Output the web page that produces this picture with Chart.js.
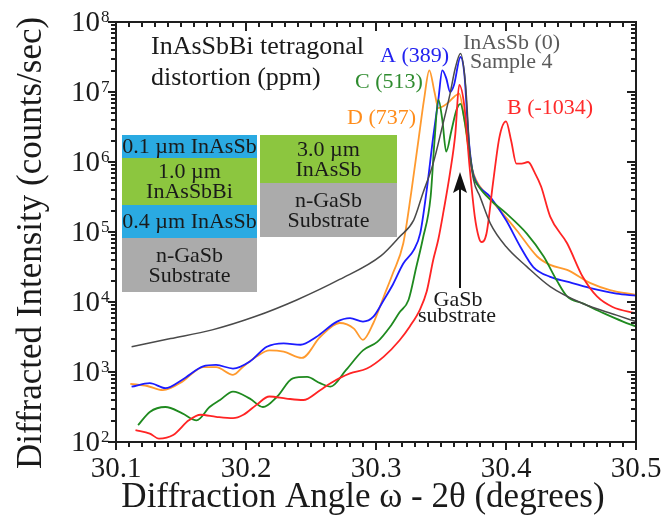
<!DOCTYPE html>
<html>
<head>
<meta charset="utf-8">
<script src="https://cdn.jsdelivr.net/npm/chart.js@4/dist/chart.umd.min.js"></script>
<style>
  html, body { margin: 0; padding: 0; background: #ffffff; }
  canvas { display: block; }
</style>
</head>
<body>
<canvas id="xrd" width="663" height="525"></canvas>
<script>
// ---- axis ticks ----
const xTickLabels = ['30.1', '30.2', '30.3', '30.4', '30.5'];
const yTickExponents = [2, 3, 4, 5, 6, 7, 8];

// ---- omega-2theta scans (diffraction angle in degrees, intensity in counts/sec) ----
// InAsSb (0), Sample 4
const grayX = [30.112, 30.142, 30.174, 30.207, 30.239, 30.272, 30.304, 30.318, 30.329, 30.336, 30.344, 30.351, 30.357, 30.361, 30.365, 30.369, 30.372, 30.375, 30.380, 30.388, 30.400, 30.416, 30.434, 30.459, 30.485, 30.500];
const grayY = [2300, 3000, 4000, 6200, 10700, 21000, 46000, 85000, 148000, 355000, 955000, 3.2e6, 9.5e6, 2.2e7, 3.55e7, 1.2e7, 1.5e6, 5.6e5, 3.2e5, 1.32e5, 6.2e4, 3.2e4, 1.66e4, 9500, 6500, 5250];

// A (389)
const blueX = [30.112, 30.126, 30.138, 30.151, 30.167, 30.177, 30.190, 30.203, 30.216, 30.229, 30.242, 30.254, 30.270, 30.280, 30.290, 30.298, 30.306, 30.313, 30.321, 30.329, 30.334, 30.339, 30.344, 30.348, 30.351, 30.354, 30.357, 30.360, 30.365, 30.368, 30.371, 30.374, 30.377, 30.388, 30.400, 30.411, 30.421, 30.434, 30.447, 30.465, 30.485, 30.500];
const blueY = [617, 692, 589, 776, 1200, 1260, 1120, 1410, 2290, 2570, 2450, 3160, 5250, 5890, 5250, 6170, 10700, 17800, 35500, 55000, 95500, 398000, 2.29e6, 7.9e6, 2.04e7, 1.58e7, 1.0e7, 1.26e7, 3.16e7, 1.78e7, 2.5e6, 7.9e5, 5.25e5, 3.16e5, 1.48e5, 6.17e4, 3.16e4, 2.29e4, 1.95e4, 1.58e4, 1.32e4, 1.23e4];

// D (737)
const orangeX = [30.111, 30.124, 30.136, 30.150, 30.160, 30.167, 30.177, 30.190, 30.198, 30.208, 30.218, 30.229, 30.243, 30.257, 30.272, 30.283, 30.290, 30.298, 30.306, 30.313, 30.321, 30.327, 30.333, 30.337, 30.341, 30.345, 30.348, 30.352, 30.356, 30.360, 30.364, 30.368, 30.371, 30.374, 30.377, 30.385, 30.393, 30.408, 30.424, 30.434, 30.447, 30.465, 30.480, 30.500];
const orangeY = [676, 631, 550, 708, 1000, 1175, 1175, 912, 1200, 1660, 2040, 1950, 1590, 3160, 5010, 4170, 2880, 5010, 12000, 25700, 69000, 355000, 2.29e6, 7.9e6, 2.04e7, 1.0e7, 5.9e6, 6.3e6, 7.2e6, 8.5e6, 9.5e6, 4.0e6, 1.6e6, 7.9e5, 5.5e5, 3.39e5, 2.29e5, 1.07e5, 4.47e4, 3.39e4, 2.88e4, 1.86e4, 1.48e4, 1.26e4];

// C (513)
const greenX = [30.117, 30.126, 30.138, 30.151, 30.162, 30.172, 30.180, 30.190, 30.203, 30.213, 30.224, 30.236, 30.247, 30.257, 30.265, 30.277, 30.290, 30.301, 30.311, 30.318, 30.325, 30.331, 30.336, 30.342, 30.345, 30.348, 30.351, 30.354, 30.358, 30.362, 30.365, 30.368, 30.372, 30.375, 30.379, 30.388, 30.400, 30.416, 30.429, 30.439, 30.447, 30.459, 30.475, 30.490, 30.500];
const greenY = [174, 269, 316, 257, 204, 316, 398, 525, 417, 316, 447, 813, 851, 692, 617, 1070, 2040, 2690, 4470, 7080, 10700, 31600, 79400, 316000, 2.0e6, 7.76e6, 4.0e6, 1.41e6, 2.8e6, 5.6e6, 6.76e6, 4.0e6, 1.32e6, 6.17e5, 4.47e5, 2.88e5, 1.86e5, 9.5e4, 4.47e4, 2.04e4, 1.2e4, 9550, 6920, 5250, 4470];

// B (-1034)
const redX = [30.115, 30.126, 30.133, 30.144, 30.156, 30.165, 30.177, 30.190, 30.198, 30.208, 30.218, 30.231, 30.244, 30.257, 30.265, 30.280, 30.293, 30.306, 30.318, 30.326, 30.334, 30.339, 30.344, 30.348, 30.352, 30.357, 30.361, 30.364, 30.368, 30.372, 30.376, 30.379, 30.381, 30.385, 30.390, 30.395, 30.400, 30.404, 30.408, 30.412, 30.417, 30.422, 30.427, 30.434, 30.447, 30.459, 30.470, 30.482, 30.500];
const redY = [148, 132, 112, 126, 204, 245, 229, 219, 245, 339, 447, 417, 398, 550, 692, 955, 1120, 1660, 2820, 4470, 7940, 14100, 39800, 79400, 2.0e5, 7.1e5, 2.5e6, 1.26e7, 6.2e6, 8.5e5, 1.66e5, 8.5e4, 7.2e4, 9.5e4, 5.0e5, 2.29e6, 3.8e6, 2.0e6, 9.5e5, 9.5e5, 1.0e6, 7.1e5, 4.47e5, 1.66e5, 6.9e4, 2.29e4, 1.2e4, 8500, 6900];

// substrate reflection marked by the arrow
const gaSbPeak = 30.365;

const SERIF = '"Liberation Serif", "DejaVu Serif", serif';

function pts(xs, ys) { return xs.map((x, i) => ({ x: x, y: ys[i] })); }

function series(label, xs, ys, color, width, order) {
  return {
    label: label,
    data: pts(xs, ys),
    borderColor: color,
    borderWidth: width,
    pointRadius: 0,
    fill: false,
    cubicInterpolationMode: 'monotone',
    order: order
  };
}

// layer-structure insets (pixel placement of the schematic)
const layerStacks = [
  { x: 122, w: 135, layers: [
    { top: 135, h: 23, color: '#2aaae2', lines: ['0.1 \u00b5m InAsSb'] },
    { top: 158, h: 47, color: '#8cc63f', lines: ['1.0 \u00b5m', 'InAsSbBi'] },
    { top: 205, h: 33, color: '#2aaae2', lines: ['0.4 \u00b5m InAsSb'] },
    { top: 238, h: 54, color: '#ababab', lines: ['n-GaSb', 'Substrate'] }
  ]},
  { x: 260, w: 137, layers: [
    { top: 135, h: 48, color: '#8cc63f', lines: ['3.0 \u00b5m', 'InAsSb'] },
    { top: 183, h: 54, color: '#ababab', lines: ['n-GaSb', 'Substrate'] }
  ]}
];

const layerPlugin = {
  id: 'layers',
  beforeDatasetsDraw(chart) {
    const ctx = chart.ctx;
    ctx.save();
    ctx.font = '22px ' + SERIF;
    ctx.textAlign = 'center';
    ctx.textBaseline = 'middle';
    layerStacks.forEach(st => {
      st.layers.forEach(L => {
        ctx.fillStyle = L.color;
        ctx.fillRect(st.x, L.top, st.w, L.h);
        ctx.fillStyle = '#1a1a1a';
        const n = L.lines.length;
        const step = 20;
        L.lines.forEach((t, i) => {
          const cy = L.top + L.h / 2 + (i - (n - 1) / 2) * step;
          ctx.fillText(t, st.x + st.w / 2, cy + 1);
        });
      });
    });
    ctx.restore();
  }
};

const axesPlugin = {
  id: 'frameAxes',
  afterDraw(chart) {
    const ctx = chart.ctx;
    const a = chart.chartArea;
    const xs = chart.scales.x, ys = chart.scales.y;
    ctx.save();
    ctx.fillStyle = '#1e1e1e';
    // plot frame
    const L = Math.round(a.left), R = Math.round(a.right), T = Math.round(a.top), B = Math.round(a.bottom);
    ctx.fillRect(L - 1, T - 1, R - L + 2, 2);
    ctx.fillRect(L - 1, B - 1, R - L + 2, 2);
    ctx.fillRect(L - 1, T - 1, 2, B - T + 2);
    ctx.fillRect(R - 1, T - 1, 2, B - T + 2);

    // x ticks every 0.01 (long at each 0.1): outward on the bottom, inward on the top
    for (let k = 0; k <= 40; k++) {
      const px = Math.round(xs.getPixelForValue(30.1 + k * 0.01));
      const major = k % 10 === 0;
      ctx.fillRect(px - 1, B, 2, major ? 8 : 5);
      ctx.fillRect(px - 1, T, 2, major ? 9 : 5);
    }
    // y ticks at decades and 2..9 subdivisions: outward on the left, inward on the right
    for (let e = 2; e <= 8; e++) {
      for (let m = 1; m <= 9; m++) {
        if (e === 8 && m > 1) break;
        const py = Math.round(ys.getPixelForValue(m * Math.pow(10, e)));
        const major = m === 1;
        const lenL = major ? 8 : 5;
        const lenR = major ? 9 : 5;
        ctx.fillRect(L - lenL, py - 1, lenL, 2);
        ctx.fillRect(R - lenR, py - 1, lenR, 2);
      }
    }

    // tick labels
    ctx.fillStyle = '#1a1a1a';
    ctx.font = '29px ' + SERIF;
    ctx.textAlign = 'center';
    ctx.textBaseline = 'middle';
    xTickLabels.forEach(t => {
      ctx.fillText(t, xs.getPixelForValue(parseFloat(t)), B + 27);
    });
    yTickExponents.forEach(e => {
      const py = ys.getPixelForValue(Math.pow(10, e));
      ctx.font = '29px ' + SERIF;
      ctx.textAlign = 'right';
      ctx.textBaseline = 'middle';
      ctx.fillText('10', 100, py + 1);
      ctx.font = '17px ' + SERIF;
      ctx.textAlign = 'left';
      ctx.textBaseline = 'alphabetic';
      ctx.fillText(String(e), 101, py);
    });

    // axis titles
    ctx.font = '35px ' + SERIF;
    ctx.textAlign = 'center';
    ctx.textBaseline = 'middle';
    ctx.fillText('Diffraction Angle \u03c9 - 2\u03b8 (degrees)', 363, 498);
    ctx.save();
    ctx.translate(32, 243);
    ctx.rotate(-Math.PI / 2);
    ctx.fillText('Diffracted Intensity (counts/sec)', 0, 0);
    ctx.restore();

    // annotations
    ctx.textAlign = 'left';
    ctx.font = '26px ' + SERIF;
    ctx.fillStyle = '#1a1a1a';
    ctx.fillText('InAsSbBi tetragonal', 151, 47);
    ctx.fillText('distortion (ppm)', 151, 78);

    ctx.font = '22px ' + SERIF;
    ctx.fillStyle = '#2323f0'; ctx.fillText('A (389)', 380, 56);
    ctx.fillStyle = '#2e8b2e'; ctx.fillText('C (513)', 355, 82);
    ctx.fillStyle = '#ff8c1a'; ctx.fillText('D (737)', 347, 118);
    ctx.fillStyle = '#ff2a2a'; ctx.fillText('B (-1034)', 507, 108);
    ctx.fillStyle = '#5a5a5a';
    ctx.fillText('InAsSb (0)', 463, 43);
    ctx.fillText('Sample 4', 470, 62);

    // arrow to the GaSb substrate peak
    const ax = Math.round(xs.getPixelForValue(gaSbPeak));
    ctx.fillStyle = '#111';
    ctx.fillRect(ax - 1, 188, 2, 100);
    ctx.beginPath();
    ctx.moveTo(ax, 172); ctx.lineTo(ax - 7, 193); ctx.lineTo(ax, 189); ctx.lineTo(ax + 7, 193);
    ctx.closePath();
    ctx.fill();
    ctx.fillStyle = '#1a1a1a';
    ctx.textAlign = 'center';
    ctx.fillText('GaSb', ax - 2, 300);
    ctx.fillText('substrate', ax - 3, 316);
    ctx.restore();
  }
};

new Chart(document.getElementById('xrd'), {
  type: 'line',
  data: {
    datasets: [
      series('B (-1034)', redX, redY, '#ff2424', 1.8, 1),
      series('C (513)', greenX, greenY, '#1f8a1f', 1.8, 2),
      series('A (389)', blueX, blueY, '#1c1cff', 1.8, 3),
      series('D (737)', orangeX, orangeY, '#ff9a2e', 1.8, 4),
      series('InAsSb (0) Sample 4', grayX, grayY, '#4a4a4a', 1.5, 0)
    ]
  },
  options: {
    responsive: false,
    devicePixelRatio: 1,
    animation: false,
    layout: { padding: { left: 116, right: 27, top: 22, bottom: 83 } },
    plugins: { legend: { display: false }, tooltip: { enabled: false } },
    scales: {
      x: { type: 'linear', min: 30.1, max: 30.5, display: false },
      y: { type: 'logarithmic', min: 100, max: 1e8, display: false }
    }
  },
  plugins: [layerPlugin, axesPlugin]
});
</script>
</body>
</html>
